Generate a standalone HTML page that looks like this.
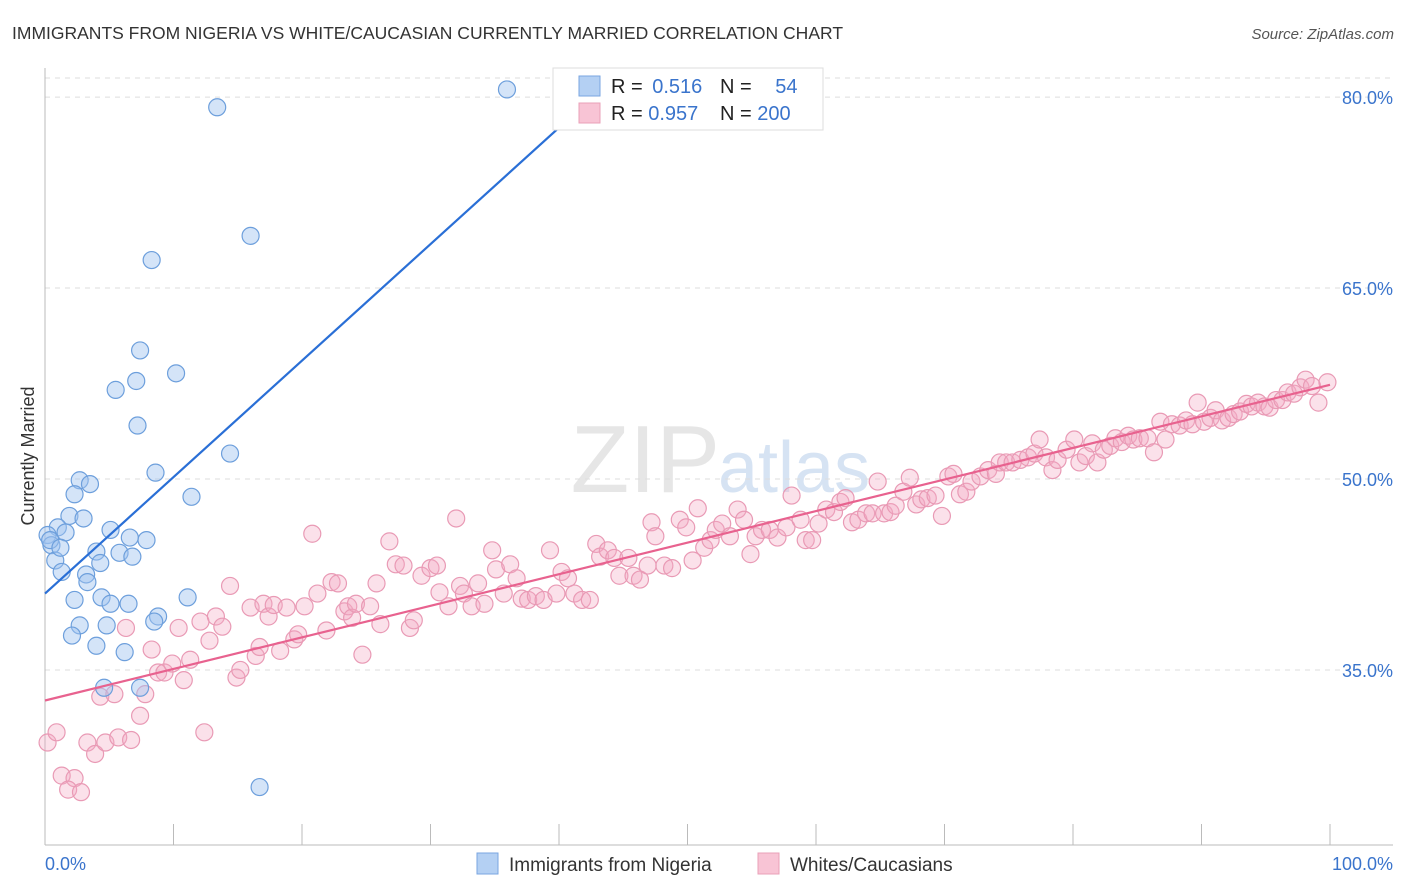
<!DOCTYPE html>
<html><head><meta charset="utf-8">
<style>
body{margin:0;background:#fff;font-family:"Liberation Sans",sans-serif;}
#wrap{position:relative;width:1406px;height:892px;overflow:hidden;}
svg text{font-family:"Liberation Sans",sans-serif;}
</style></head>
<body>
<div id="wrap">
<svg id="chart" width="1406" height="892">
  <text x="12" y="39" font-size="17.5" fill="#333">IMMIGRANTS FROM NIGERIA VS WHITE/CAUCASIAN CURRENTLY MARRIED CORRELATION CHART</text>
  <text x="1394" y="39" font-size="15" fill="#555" font-style="italic" text-anchor="end">Source: ZipAtlas.com</text>
  <text x="0" y="0" transform="translate(34,456) rotate(-90)" font-size="18" fill="#333" text-anchor="middle">Currently Married</text>
  <text x="720" y="492" font-size="96" fill="#e6e6e6" font-family="Liberation Serif" text-anchor="end">ZIP</text>
  <text x="718" y="492" font-size="72" fill="#d6e3f3">atlas</text>
  <g id="grid"></g>
  <g id="axes"></g>
  <g id="pinkpts"></g>
  <g id="bluepts"></g>
  <g id="lines"></g>
  <g>
    <rect x="553" y="68" width="270" height="62" fill="#fff" stroke="#ddd"/>
    <rect x="579" y="76" width="21" height="20" fill="#b4d0f3" stroke="#7aa6e0"/>
    <rect x="579" y="103" width="21" height="20" fill="#f8c4d5" stroke="#eaa0b8"/>
    <text x="611" y="93" font-size="20" fill="#222">R = <tspan fill="#3a74cc" dx="4">0.516</tspan></text>
    <text x="720" y="93" font-size="20" fill="#222">N = <tspan fill="#3a74cc" dx="18">54</tspan></text>
    <text x="611" y="120" font-size="20" fill="#222">R = <tspan fill="#3a74cc">0.957</tspan></text>
    <text x="720" y="120" font-size="20" fill="#222">N = <tspan fill="#3a74cc">200</tspan></text>
  </g>
  <g>
    <rect x="477" y="853" width="21" height="21" fill="#b4d0f3" stroke="#7aa6e0"/>
    <text x="509" y="871" font-size="19" fill="#333">Immigrants from Nigeria</text>
    <rect x="758" y="853" width="21" height="21" fill="#f8c4d5" stroke="#eaa0b8"/>
    <text x="790" y="871" font-size="19" fill="#333">Whites/Caucasians</text>
  </g>
</svg>
</div>
<script>
const yTicks=[80,65,50,35];
const yTickLabels=["80.0%","65.0%","50.0%","35.0%"];
const xEndLabels=["0.0%","100.0%"];
const blueX=[13.4,35.95,16.0,8.3,7.4,7.1,5.5,10.2,7.2,14.4,8.6,2.7,3.5,2.3,11.4,1.9,3.0,1.0,1.6,0.2,5.1,6.6,7.9,0.5,4.0,5.8,6.8,0.8,4.3,1.3,3.2,3.3,2.3,4.4,5.1,6.5,11.1,8.8,8.5,2.7,4.8,2.1,4.0,6.2,4.6,7.4,16.7,0.4,1.2];
const blueY=[79.2,80.6,69.1,67.2,60.1,57.7,57.0,58.3,54.2,52.0,50.5,49.9,49.6,48.8,48.6,47.1,46.9,46.2,45.8,45.6,46.0,45.4,45.2,44.8,44.3,44.2,43.9,43.6,43.4,42.7,42.5,41.9,40.5,40.7,40.2,40.2,40.7,39.2,38.8,38.5,38.5,37.7,36.9,36.4,33.6,33.6,25.8,45.2,44.6];
const pinkX=[0.2,0.9,1.3,2.3,1.8,2.8,3.3,3.9,4.7,5.7,6.7,7.4,7.8,4.3,5.4,6.3,8.3,8.8,9.3,9.9,10.8,10.4,11.3,12.1,12.4,12.8,13.3,13.8,14.4,14.9,15.2,16.0,16.4,16.7,17.0,17.4,17.8,18.3,18.8,19.4,19.7,20.2,20.8,21.2,21.9,22.3,22.8,23.3,23.6,23.9,24.2,24.7,25.3,25.8,26.1,26.8,27.3,27.9,28.4,28.7,29.3,30.0,30.5,30.7,31.4,32.0,32.3,32.6,33.2,33.7,34.2,34.8,35.1,35.7,36.2,36.7,37.1,37.6,38.2,38.8,39.3,39.8,40.2,40.7,41.2,41.8,42.4,42.9,43.2,43.8,44.3,44.7,45.4,45.8,46.3,46.9,47.2,47.5,48.2,48.8,49.4,49.9,50.4,50.8,51.3,51.8,52.2,52.7,53.3,53.9,54.4,54.9,55.3,55.8,56.4,57.0,57.7,58.1,58.8,59.2,59.7,60.2,60.8,61.4,61.9,62.3,62.8,63.3,63.9,64.4,64.8,65.3,65.8,66.2,66.8,67.3,67.8,68.2,68.7,69.3,69.8,70.3,70.7,71.2,71.7,72.1,72.8,73.4,74.0,74.3,74.8,75.3,75.9,76.5,77.0,77.4,77.9,78.4,78.8,79.5,80.1,80.5,81.0,81.5,81.9,82.4,82.9,83.3,83.8,84.3,84.7,85.2,85.8,86.3,86.8,87.2,87.7,88.3,88.8,89.3,89.7,90.2,90.7,91.1,91.6,92.1,92.5,93.0,93.5,93.9,94.4,94.9,95.3,95.8,96.3,96.7,97.2,97.7,98.1,98.6,99.1,99.8];
const pinkY=[29.3,30.1,26.7,26.5,25.6,25.4,29.3,28.4,29.3,29.7,29.5,31.4,33.1,32.9,33.1,38.3,36.6,34.8,34.8,35.5,34.2,38.3,35.8,38.8,30.1,37.3,39.2,38.4,41.6,34.4,35.0,39.9,36.1,36.8,40.2,39.2,40.1,36.5,39.9,37.4,37.8,40.0,45.7,41.0,38.1,41.9,41.8,39.6,40.0,39.1,40.2,36.2,40.0,41.8,38.6,45.1,43.3,43.2,38.3,38.9,42.4,43.0,43.2,41.1,40.0,46.9,41.6,41.0,40.0,41.8,40.2,44.4,42.9,41.0,43.3,42.2,40.6,40.5,40.8,40.5,44.4,41.0,42.7,42.2,41.0,40.5,40.5,44.9,43.9,44.4,43.8,42.4,43.8,42.4,42.1,43.2,46.6,45.5,43.2,43.0,46.8,46.2,43.6,47.7,44.6,45.2,46.0,46.5,45.5,47.6,46.8,44.1,45.5,46.0,46.0,45.4,46.2,48.7,46.8,45.2,45.2,46.5,47.6,47.4,48.2,48.5,46.6,46.8,47.3,47.3,49.8,47.3,47.4,47.9,49.0,50.1,48.0,48.4,48.5,48.7,47.1,50.2,50.4,48.8,49.0,49.8,50.2,50.7,50.4,51.3,51.3,51.3,51.5,51.7,52.0,53.1,51.7,50.7,51.5,52.3,53.1,51.3,51.8,52.8,51.3,52.3,52.6,53.2,52.9,53.4,53.1,53.2,53.2,52.1,54.5,53.1,54.3,54.2,54.6,54.3,56.0,54.5,54.8,55.4,54.6,54.8,55.1,55.3,55.9,55.7,56.0,55.7,55.6,56.2,56.2,56.8,56.7,57.2,57.8,57.3,56.0,57.6];
const blueTrendX=[0,40];
const blueTrendY=[41.0,77.6];
const pinkTrendX=[0,100];
const pinkTrendY=[32.6,57.4];

const NS="http://www.w3.org/2000/svg";
const X0=45,X1=1330,PY50=479,PXPER=12.73;
function xs(v){return X0+(X1-X0)*v/100;}
function ys(v){return PY50-(v-50)*PXPER;}
function mk(tag,attrs,parent){const e=document.createElementNS(NS,tag);for(const k in attrs)e.setAttribute(k,attrs[k]);parent.appendChild(e);return e;}

const grid=document.getElementById('grid');
const gTop=mk('line',{x1:45,x2:1393,y1:78,y2:78,stroke:'#ddd','stroke-dasharray':'5,5'},grid);


yTicks.forEach((t,i)=>{
  const l=mk('line',{x1:45,x2:1393,y1:ys(t),y2:ys(t),stroke:'#ddd','stroke-dasharray':'5,5'},grid);
  
  
  const tx=mk('text',{x:1393,y:ys(t)+7,'font-size':18,fill:'#3a74cc','text-anchor':'end'},grid);
  tx.textContent=yTickLabels[i];
  
  
});
const axes=document.getElementById('axes');
const ya=mk('line',{x1:45,x2:45,y1:68,y2:845,stroke:'#bbb'},axes);


const xa=mk('line',{x1:45,x2:1393,y1:845,y2:845,stroke:'#bbb'},axes);


for(let i=0;i<=10;i++){
  const t=mk('line',{x1:xs(i*10),x2:xs(i*10),y1:824,y2:845,stroke:'#bbb'},axes);
  
  
}
const xl0=mk('text',{x:45,y:870,'font-size':18,fill:'#3a74cc'},axes);
xl0.textContent=xEndLabels[0];


const xl1=mk('text',{x:1393,y:870,'font-size':18,fill:'#3a74cc','text-anchor':'end'},axes);
xl1.textContent=xEndLabels[1];



const pg=document.getElementById('pinkpts');
pinkX.forEach((v,i)=>{
  const c=mk('circle',{cx:xs(v),cy:ys(pinkY[i]),r:8.5,fill:'rgba(244,170,195,0.35)',stroke:'#e99ab5','stroke-width':1.2},pg);
  
  
});
const bg=document.getElementById('bluepts');
blueX.forEach((v,i)=>{
  const c=mk('circle',{cx:xs(v),cy:ys(blueY[i]),r:8.5,fill:'rgba(160,196,240,0.45)',stroke:'#6d9fdc','stroke-width':1.2},bg);
  
  
});
const lg=document.getElementById('lines');
const bl=mk('line',{x1:xs(blueTrendX[0]),y1:ys(blueTrendY[0]),x2:xs(blueTrendX[1]),y2:ys(blueTrendY[1]),stroke:'#2a6fd6','stroke-width':2.2},lg);


const pl=mk('line',{x1:xs(pinkTrendX[0]),y1:ys(pinkTrendY[0]),x2:xs(pinkTrendX[1]),y2:ys(pinkTrendY[1]),stroke:'#e8628f','stroke-width':2.2},lg);


</script>
</body></html>
